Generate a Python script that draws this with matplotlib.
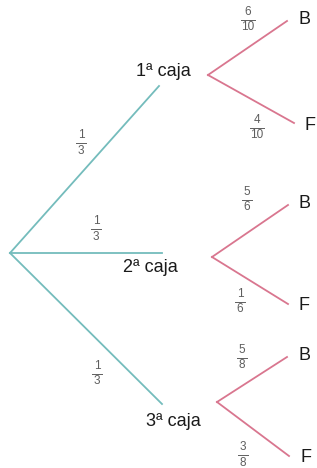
import matplotlib.pyplot as plt

# datos del arbol
cajas = ['1ª caja', '2ª caja', '3ª caja']
p_caja = [('1', '3'), ('1', '3'), ('1', '3')]
p_B = [('6', '10'), ('5', '6'), ('5', '8')]
p_F = [('4', '10'), ('1', '6'), ('3', '8')]

# posiciones (pixeles de la imagen)
raiz = (10, 253)
fin_caja = [(159, 86), (162, 253), (162, 404)]
pos_caja = [(163, 72), (150, 268), (173, 422)]
vertice = [(208, 75), (212, 257), (217, 402)]
fin_B = [(287, 21), (288, 205), (287, 357)]
fin_F = [(294, 123), (288, 304), (289, 456)]
pos_pcaja = [(81, 143), (96, 229), (97, 374)]
pos_pB = [(248, 20), (247, 200), (242, 358)]
pos_pF = [(257, 128), (240, 302), (243, 455)]

teal = '#74bcbc'
rosa = '#d9768f'
gris = '#5e5e5e'
negro = '#1a1a1a'

plt.rcParams['font.family'] = ['Liberation Sans', 'DejaVu Sans']

fig = plt.figure(figsize=(3.17, 4.68), dpi=100)
ax = fig.add_axes([0, 0, 1, 1])
ax.set_xlim(0, 317)
ax.set_ylim(468, 0)
ax.axis('off')


def fraccion(x, y, num, den):
    ax.text(x, y - 2, num, ha='center', va='bottom', fontsize=8.5, color=gris)
    ancho = 5 if len(den) == 1 and len(num) == 1 else 7
    ax.plot([x - ancho, x + ancho], [y, y], color=gris, lw=0.7)
    ax.text(x, y + 1.5, den, ha='center', va='top', fontsize=8.5, color=gris)


for i in range(3):
    ax.plot([raiz[0], fin_caja[i][0]], [raiz[1], fin_caja[i][1]], color=teal, lw=1.3)
    ax.text(pos_caja[i][0], pos_caja[i][1], cajas[i], ha='center', va='center',
            fontsize=13, color=negro)
    ax.plot([vertice[i][0], fin_B[i][0]], [vertice[i][1], fin_B[i][1]], color=rosa, lw=1.3)
    ax.plot([vertice[i][0], fin_F[i][0]], [vertice[i][1], fin_F[i][1]], color=rosa, lw=1.3)
    ax.text(fin_B[i][0] + 11, fin_B[i][1] - 2, 'B', ha='left', va='center',
            fontsize=13, color=negro)
    ax.text(fin_F[i][0] + 11, fin_F[i][1] + 2, 'F', ha='left', va='center',
            fontsize=13, color=negro)
    fraccion(*pos_pcaja[i], *p_caja[i])
    fraccion(*pos_pB[i], *p_B[i])
    fraccion(*pos_pF[i], *p_F[i])

fig.savefig('out.png', dpi=100)
